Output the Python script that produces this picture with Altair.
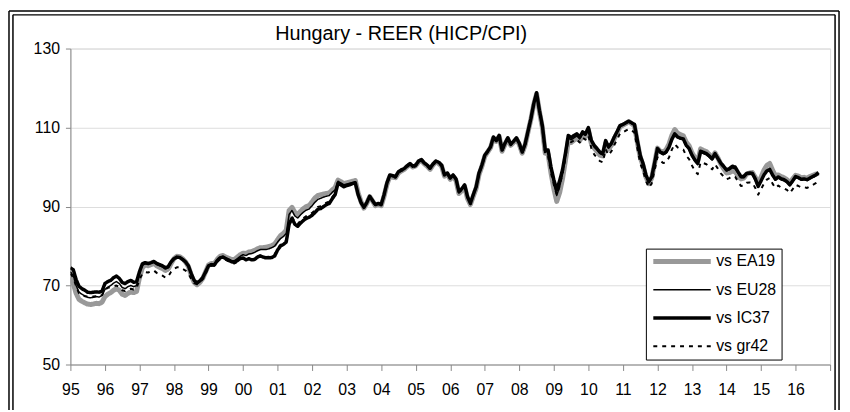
import altair as alt
import pandas as pd

series_names = ["vs EA19", "vs EU28", "vs IC37", "vs gr42"]
year_ticks = list(range(1995, 2018))
y_ticks = [50, 70, 90, 110, 130]
chart_title = "Hungary - REER (HICP/CPI)"

ea19 = [
    72.0, 70.5, 68.0, 66.5, 66.0, 65.6, 65.3, 65.2, 65.3, 65.5, 65.4, 65.8,
    67.2, 67.8, 68.2, 68.8, 69.2, 68.8, 67.8, 67.5, 68.0, 68.4, 68.2, 68.5,
    72.0, 74.5, 75.2, 75.0, 75.3, 75.6, 75.0, 74.6, 74.3, 73.8, 74.2, 75.6,
    76.8, 77.4, 77.3, 76.8, 76.0, 74.8, 72.6, 70.8, 70.2, 70.8, 71.8, 73.5,
    75.2, 75.6, 75.5, 76.6, 77.4, 77.6, 77.2, 76.9, 76.6, 76.6, 77.2, 77.8,
    78.2, 78.1, 78.5, 78.6, 78.9, 79.3, 79.6, 79.6, 79.7, 79.9, 80.1, 80.5,
    81.6, 82.6, 83.2, 84.0, 89.0, 89.8, 88.5, 88.0, 88.8, 89.5, 90.0, 90.3,
    91.2, 92.2, 92.8, 93.0, 93.2, 93.3, 93.5, 94.2, 94.8, 96.7, 96.3, 95.8,
    96.0, 96.2, 96.4, 96.6, 93.4, 91.2, 89.6, 90.8, 92.5, 91.4, 90.2, 90.5,
    90.2, 92.6, 95.6, 97.6, 97.4, 97.3, 98.5, 99.0, 99.4, 100.1, 100.6, 100.0,
    100.3, 101.3, 101.6, 100.8, 100.2, 99.4, 100.5, 101.3, 100.9, 100.2, 97.7, 98.2,
    96.9, 97.6, 96.6, 93.3, 94.0, 95.0, 92.0, 90.5, 92.6, 94.6, 98.1, 100.2,
    102.7, 103.8, 104.9, 107.3, 106.5, 107.8, 104.0, 105.7, 107.1, 105.5, 106.2, 107.1,
    105.7, 103.5, 105.5, 108.8, 112.0, 115.8, 118.5, 114.0, 110.0, 103.5, 103.3, 98.5,
    94.5, 91.3, 93.5, 97.0, 101.5, 106.5, 106.2, 106.8, 107.3, 106.7, 108.0, 107.7,
    109.5, 106.0, 104.8, 104.0, 103.0, 102.8, 106.0, 104.5, 105.5, 107.2, 108.6, 110.2,
    110.6, 111.0, 111.5, 111.0, 110.5, 106.3, 102.5, 100.3, 97.5, 95.8, 97.2, 100.8,
    104.8, 104.0, 103.8, 104.4, 105.8, 108.0, 109.5, 108.6, 108.2, 107.9, 106.3, 105.4,
    103.6, 102.4, 101.5, 104.6, 104.2, 103.9, 103.2, 102.4, 103.6, 102.3, 100.8, 99.6,
    98.5, 98.6, 99.0, 98.8, 97.8, 97.0, 97.2, 98.2, 98.5, 98.6, 97.4, 95.8,
    97.4, 99.2, 100.4, 100.9, 99.2, 97.8, 98.0, 97.6, 97.3, 96.8, 96.0, 97.0,
    97.9, 97.7, 97.3, 97.4, 97.2, 97.6, 97.9, 98.2, 98.4,
]

eu28 = [
    73.5, 72.5, 70.0, 68.3, 67.8, 67.4, 67.0, 66.9, 67.0, 67.2, 67.1, 67.5,
    69.0, 69.6, 70.0, 70.6, 71.0, 70.5, 69.5, 69.2, 69.7, 70.0, 69.7, 70.0,
    73.0, 75.1, 75.5, 75.3, 75.6, 75.9, 75.3, 75.0, 74.7, 74.2, 74.5, 75.8,
    76.8, 77.3, 77.2, 76.7, 76.0, 74.9, 72.8, 71.0, 70.4, 71.0, 71.9, 73.5,
    75.1, 75.5, 75.4, 76.5, 77.2, 77.4, 77.0, 76.7, 76.3, 76.3, 76.8, 77.4,
    77.8, 77.6, 78.0, 78.1, 78.4, 78.8, 79.1, 79.1, 79.1, 79.3, 79.6, 80.0,
    81.0, 81.9, 82.4, 83.2, 88.0, 89.0, 87.6, 87.1, 87.9, 88.6, 89.1, 89.4,
    90.2, 91.1, 91.8, 92.1, 92.4, 92.6, 92.8, 93.6, 94.2, 96.4, 96.0, 95.5,
    95.7, 95.9, 96.1, 96.3, 93.2, 91.1, 89.7, 90.9, 92.5, 91.4, 90.3, 90.6,
    90.4, 92.8, 95.8, 97.8, 97.6, 97.4, 98.7, 99.2, 99.5, 100.2, 100.8, 100.1,
    100.4, 101.4, 101.8, 100.9, 100.4, 99.6, 100.7, 101.4, 101.1, 100.4, 97.9, 98.4,
    97.1, 97.9, 96.9, 93.6, 94.3, 95.3, 92.3, 90.7, 92.9, 94.9, 98.4, 100.4,
    102.9, 103.9, 105.0, 107.5, 106.6, 107.9, 104.2, 105.9, 107.3, 105.7, 106.4, 107.3,
    105.9, 103.7, 105.7, 108.9, 112.1, 115.9, 118.6, 114.1, 110.2, 103.9, 103.8, 99.3,
    95.7, 92.8, 95.0, 98.2, 102.5, 107.3, 106.9, 107.4, 107.9, 107.1, 108.4, 108.0,
    109.7, 106.4, 105.1, 104.3, 103.4, 103.1, 106.3, 104.8, 105.7, 107.4, 108.8, 110.3,
    110.6, 111.0, 111.4, 111.0, 110.6, 106.5, 102.7, 100.6, 97.7, 96.0, 97.2, 100.7,
    104.4, 103.5, 103.1, 103.5, 104.8, 106.8, 108.2, 107.4, 107.1, 106.9, 105.3, 104.4,
    102.7, 101.5, 100.6, 103.7, 103.4, 103.1, 102.5, 101.8, 103.1, 101.9, 100.7, 99.9,
    99.0, 99.3, 99.8, 99.6, 98.5, 97.3, 97.3, 98.1, 98.2, 98.1, 96.7, 94.9,
    96.4, 97.9, 98.9, 99.3, 97.8, 96.7, 97.3, 96.8, 96.5, 96.1, 95.3, 96.3,
    97.4, 97.1, 96.7, 96.8, 96.6, 97.0, 97.4, 97.8, 98.3,
]

ic37 = [
    74.5, 74.0, 71.5, 69.8, 69.2, 68.8, 68.3, 68.2, 68.3, 68.4, 68.3, 68.6,
    70.5, 71.0, 71.3, 72.0, 72.4, 71.8, 70.8, 70.5, 71.0, 71.3, 70.8, 71.0,
    73.5, 75.5, 75.8, 75.6, 75.8, 76.1, 75.6, 75.3, 75.0, 74.5, 74.8, 76.0,
    76.8, 77.2, 77.1, 76.6, 76.0, 75.0, 73.0, 71.3, 70.7, 71.2, 72.0, 73.5,
    75.0, 75.3, 75.2, 76.3, 77.0, 77.2, 76.8, 76.4, 76.0, 75.9, 76.3, 76.8,
    77.0, 76.5, 76.8, 76.5, 76.6, 77.2, 77.5, 77.2, 77.0, 77.0, 77.1, 77.5,
    79.0, 80.0, 80.4, 81.0, 85.5, 87.0, 85.5, 85.0, 85.8, 86.5, 87.0, 87.3,
    87.8, 88.5, 89.3, 89.5, 90.0, 90.5, 90.8, 92.0, 93.0, 95.9, 95.5, 95.0,
    95.3, 95.5, 95.8, 96.0, 93.0, 91.0, 89.8, 91.0, 92.6, 91.5, 90.5, 90.8,
    90.5, 93.0, 96.0, 98.0, 97.8, 97.6, 98.8, 99.3, 99.6, 100.3, 100.9, 100.2,
    100.5, 101.5, 101.9, 101.0, 100.5, 99.7, 100.8, 101.5, 101.2, 100.5, 98.0, 98.5,
    97.2, 98.0, 97.0, 93.8, 94.5, 95.5, 92.5, 90.8, 93.0, 95.0, 98.5, 100.5,
    103.0, 104.0, 105.1, 107.6, 106.7, 108.0, 104.3, 106.0, 107.4, 105.8, 106.5, 107.4,
    106.0, 103.8, 105.8, 109.0, 112.2, 116.0, 118.8, 114.3, 110.5, 104.3, 104.3, 100.0,
    96.8, 94.2, 96.5, 99.3, 103.4, 108.0, 107.5, 108.0, 108.4, 107.6, 108.9, 108.4,
    110.0, 106.8, 105.5, 104.7, 103.8, 103.4, 106.7, 105.1, 106.0, 107.6, 109.0, 110.5,
    110.8, 111.2, 111.6, 111.2, 110.8, 106.8, 103.0, 100.9, 98.0, 96.3, 97.5, 101.0,
    104.7, 103.8, 103.4, 103.8, 105.0, 107.0, 108.4, 107.6, 107.3, 107.1, 105.5, 104.7,
    103.0, 101.8, 100.9, 104.0, 103.7, 103.4, 102.8, 102.1, 103.4, 102.2, 101.0, 100.2,
    99.3, 99.6, 100.2, 100.0, 98.8, 97.6, 97.6, 98.4, 98.5, 98.4, 97.0, 95.1,
    96.5, 98.0, 99.0, 99.4, 98.0, 96.9, 97.5, 97.0, 96.8, 96.3, 95.5, 96.5,
    97.6, 97.3, 96.9, 97.0, 96.8, 97.2, 97.6, 98.0, 98.6,
]

gr42 = [
    73.0, 72.0, 69.8, 68.0, 67.6, 67.3, 67.2, 67.1, 67.2, 67.3, 67.2, 67.6,
    69.0, 69.4, 69.6, 69.8, 70.0, 69.6, 68.8, 68.6, 69.0, 69.2, 69.0, 69.3,
    71.5, 73.0, 73.4, 73.3, 73.6, 73.8, 73.2, 72.8, 72.5, 72.0, 72.3, 73.5,
    74.2, 74.6, 74.6, 74.2, 73.8, 73.0, 71.6, 70.6, 70.3, 70.8, 71.6, 73.0,
    74.6, 75.0, 75.0, 76.0, 76.6, 76.8, 76.5, 76.1, 75.7, 75.6, 76.0, 76.6,
    76.9, 76.5, 76.8, 76.6, 76.8, 77.3, 77.6, 77.4, 77.2, 77.3, 77.4, 77.9,
    79.3, 80.3, 80.8, 81.4, 86.0, 87.5, 86.0, 85.6, 86.4, 87.1, 87.6, 87.9,
    88.4, 89.1, 89.9, 90.1, 90.6, 91.0, 91.3, 92.4, 93.3, 96.0, 95.6, 95.1,
    95.3, 95.5, 95.7, 95.9, 92.9, 90.9, 89.6, 90.8, 92.4, 91.3, 90.3, 90.6,
    90.3, 92.7, 95.6, 97.6, 97.4, 97.3, 98.5, 99.0, 99.3, 100.0, 100.6, 99.9,
    100.2, 101.2, 101.6, 100.7, 100.2, 99.4, 100.5, 101.2, 100.9, 100.2, 97.7, 98.2,
    96.9, 97.7, 96.7, 93.5, 94.2, 95.2, 92.2, 90.6, 92.8, 94.8, 98.2, 100.2,
    102.7, 103.7, 104.8, 107.3, 106.4, 107.7, 104.0, 105.7, 107.1, 105.5, 106.2, 107.1,
    105.6, 103.4, 105.4, 108.6, 111.8, 115.6, 118.4, 113.8, 109.6, 103.0, 102.8, 98.5,
    95.5, 93.0, 95.2, 98.2, 102.2, 106.8, 106.3, 106.7, 107.0, 106.2, 107.4, 106.9,
    108.0, 104.8, 103.2, 102.3, 101.5, 101.2, 104.5, 103.0, 104.0, 105.6, 107.0, 108.5,
    108.8, 109.2, 109.6, 109.2, 108.8, 104.8, 101.0, 99.0, 96.5, 94.8, 95.8, 99.2,
    102.5, 101.6, 101.0, 101.2, 102.4, 104.4, 105.8, 105.0, 104.6, 104.4, 102.8, 102.0,
    100.4, 99.0, 98.2, 101.2, 101.0, 100.7, 100.1, 99.4, 100.7, 99.6, 98.4, 97.6,
    96.9, 97.2, 97.7, 97.5, 96.4, 95.2, 95.3, 96.0, 96.1, 96.0, 94.7, 93.0,
    94.4, 95.8, 96.8, 97.2, 95.8, 94.7, 95.3, 94.8, 94.6, 94.2, 93.4, 94.4,
    95.5, 95.2, 94.8, 94.9, 94.7, 95.1, 95.5, 95.9, 96.4,
]

all_series = [ea19, eu28, ic37, gr42]
for s in all_series:
    assert len(s) == 261, len(s)

rows = []
for name, vals in zip(series_names, all_series):
    for i, v in enumerate(vals):
        rows.append({"t": 1995 + i / 12.0, "value": v, "series": name})
df = pd.DataFrame(rows)

FONT = "Liberation Sans"
W, H = 767, 319


def make_legend():
    return alt.Legend(orient="none", legendX=581, legendY=202, title=None,
                      symbolType="stroke", symbolSize=3364, clipHeight=16,
                      labelFontSize=16, labelFont=FONT, labelColor="black",
                      labelOffset=3, padding=5, rowPadding=12.5,
                      strokeColor="black", fillColor="white")


lines = alt.Chart(df).mark_line(strokeJoin="round", strokeCap="butt", clip=True).encode(
    x=alt.X("t:Q",
            scale=alt.Scale(domain=[1995, 2017], nice=False, zero=False),
            axis=alt.Axis(values=year_ticks, title=None, grid=False,
                          labelExpr="datum.value > 2016 ? '' : slice(format(datum.value, 'd'), 2)",
                          labelFont=FONT, labelFontSize=16, labelColor="black",
                          tickSize=6, labelPadding=11, labelFlush=False)),
    y=alt.Y("value:Q",
            scale=alt.Scale(domain=[50, 130], nice=False, zero=False),
            axis=alt.Axis(values=y_ticks, title=None, grid=True,
                          labelFont=FONT, labelFontSize=16, labelColor="black",
                          tickSize=5, labelPadding=6)),
    color=alt.Color("series:N",
                    scale=alt.Scale(domain=series_names,
                                    range=["#999999", "#000000", "#000000", "#000000"]),
                    legend=make_legend()),
    strokeWidth=alt.StrokeWidth("series:N",
                                scale=alt.Scale(type="ordinal", domain=series_names,
                                                range=[5, 1.5, 3.5, 2]),
                                legend=make_legend()),
    strokeDash=alt.StrokeDash("series:N",
                              scale=alt.Scale(domain=series_names,
                                              range=[[1, 0], [1, 0], [1, 0], [4, 5]]),
                              legend=make_legend()),
    order=alt.Order("series:N"),
)

title_text = alt.Chart(alt.Data(values=[{"label": chart_title}])).mark_text(
    font=FONT, fontSize=20, color="black", align="center", baseline="alphabetic"
).encode(text="label:N", x=alt.value(334), y=alt.value(-9))

frame_src = alt.Data(values=[{"k": 1}])
frame_left1 = alt.Chart(frame_src).mark_rule(color="black", strokeWidth=1.5).encode(
    x=alt.value(-62), y=alt.value(-38), y2=alt.value(H + 46))
frame_left2 = alt.Chart(frame_src).mark_rule(color="black", strokeWidth=1.5).encode(
    x=alt.value(-58), y=alt.value(-34), y2=alt.value(H + 46))
frame_right1 = alt.Chart(frame_src).mark_rule(color="black", strokeWidth=1.5).encode(
    x=alt.value(W + 5), y=alt.value(-34), y2=alt.value(H + 46))
frame_right2 = alt.Chart(frame_src).mark_rule(color="black", strokeWidth=1.5).encode(
    x=alt.value(W + 9), y=alt.value(-38), y2=alt.value(H + 46))
frame_top1 = alt.Chart(frame_src).mark_rule(color="black", strokeWidth=1.5).encode(
    x=alt.value(-62), x2=alt.value(W + 9), y=alt.value(-38))
frame_top2 = alt.Chart(frame_src).mark_rule(color="black", strokeWidth=1.5).encode(
    x=alt.value(-58), x2=alt.value(W + 5), y=alt.value(-34))

chart = alt.layer(
    lines, title_text, frame_left1, frame_left2, frame_right1, frame_right2,
    frame_top1, frame_top2
).properties(
    width=W, height=H,
    autosize=alt.AutoSizeParams(type="none"),
    padding={"left": 63, "top": 39, "right": 12, "bottom": 46},
).configure_view(
    stroke="#808080", strokeWidth=1.5
).configure_axis(
    labelFont=FONT, labelFontSize=16, labelColor="black",
    domainColor="black", domainWidth=1.2, tickColor="black", tickWidth=1.2,
    gridColor="#8c8c8c", gridWidth=1, gridDash=[3, 1],
).configure(background="white")

chart.save("out.html", embed_options={"renderer": "svg", "actions": False})
